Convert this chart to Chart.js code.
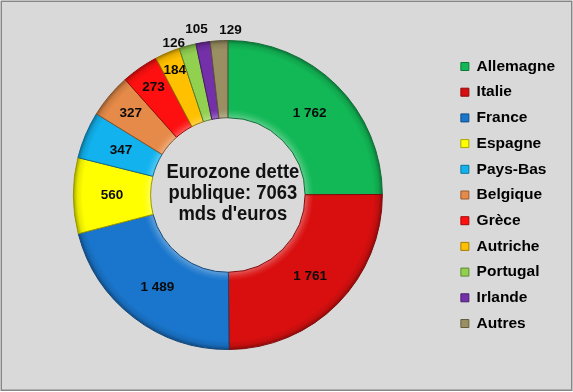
<!DOCTYPE html>
<html><head><meta charset="utf-8">
<script src="https://cdn.jsdelivr.net/npm/chart.js@4.4.1/dist/chart.umd.min.js"></script>
<style>html,body{margin:0;padding:0;background:#fff;overflow:hidden}canvas{display:block}</style>
</head><body>
<canvas id="c" width="573" height="392"></canvas>
<script>
const categories = ['Allemagne','Italie','France','Espagne','Pays-Bas','Belgique','Grèce','Autriche','Portugal','Irlande','Autres'];
const debtValues = [1762, 1761, 1489, 560, 347, 327, 273, 184, 126, 105, 129];
const centerTitle = ['Eurozone dette', 'publique: 7063', "mds d'euros"];

// styling
const sliceColors = ['#12b856','#d90f0f','#1a76cc','#ffff00','#12b2ee','#e58a48','#ff1010','#ffc000','#92d050','#7430a8','#9a8f62'];
const labelRadius = [0.75,0.75,0.75,0.75,0.75,0.82,0.845,0.876,1.04,1.094,1.065];
const labelAngleShift = [0,0,0,0,0,0,0,0,-4.5,-1.4,4.2];
const FONT = "'Liberation Sans', Arial, sans-serif";

function shade(hex, f) {
  const n = parseInt(hex.slice(1), 16);
  let r = n >> 16, g = (n >> 8) & 255, b = n & 255;
  if (f >= 0) { r += (255 - r) * f; g += (255 - g) * f; b += (255 - b) * f; }
  else { r *= 1 + f; g *= 1 + f; b *= 1 + f; }
  return 'rgb(' + Math.round(r) + ',' + Math.round(g) + ',' + Math.round(b) + ')';
}
function fmt(v) { return String(v).replace(/\B(?=(\d{3})+(?!\d))/g, ' '); }

const bgPlugin = {
  id: 'bg',
  beforeDraw(chart) {
    const c = chart.ctx;
    c.save();
    c.fillStyle = '#ffffff';
    c.fillRect(0, 0, chart.width, chart.height);
    c.fillStyle = '#d9d9d9';
    c.fillRect(1, 1, chart.width - 2, chart.height - 2);
    c.strokeStyle = '#868686';
    c.lineWidth = 1.5;
    c.strokeRect(1.25, 1.25, chart.width - 2.5, chart.height - 3);
    c.restore();
  }
};

const labelPlugin = {
  id: 'labels',
  afterDatasetsDraw(chart) {
    const c = chart.ctx;
    const meta = chart.getDatasetMeta(0);
    c.save();
    c.font = 'bold 13.5px ' + FONT;
    c.fillStyle = '#0a0a0a';
    c.textAlign = 'center';
    c.textBaseline = 'middle';
    meta.data.forEach((arc, i) => {
      const p = arc.getProps(['x','y','startAngle','endAngle','outerRadius'], true);
      const mid = (p.startAngle + p.endAngle) / 2 + labelAngleShift[i] * Math.PI / 180;
      const r = p.outerRadius * labelRadius[i];
      c.fillText(fmt(debtValues[i]), p.x + Math.cos(mid) * r, p.y + Math.sin(mid) * r);
    });
    const a0 = meta.data[0];
    if (a0) {
      c.font = 'bold 20px ' + FONT;
      c.textBaseline = 'alphabetic';
      c.fillStyle = '#111';
      const offs = [-17, 4, 25];
      centerTitle.forEach((t, k) => {
        c.save();
        c.translate(a0.x + 5, a0.y + offs[k]);
        c.scale(0.92, 1);
        c.fillText(t, 0, 0);
        c.restore();
      });
    }
    c.restore();
  }
};

function sliceFill(ctx) {
  const i = ctx.dataIndex;
  const base = sliceColors[i];
  const meta = ctx.chart.getDatasetMeta(0);
  const arc = meta.data[i];
  if (!arc || !arc.outerRadius) return base;
  const x = arc.x, y = arc.y, ir = arc.innerRadius, or = arc.outerRadius;
  const g = ctx.chart.ctx.createRadialGradient(x, y, ir, x, y, or);
  g.addColorStop(0, shade(base, 0.3));
  g.addColorStop(0.06, shade(base, 0.1));
  g.addColorStop(0.11, base);
  g.addColorStop(0.88, base);
  g.addColorStop(0.95, shade(base, -0.1));
  g.addColorStop(1, shade(base, -0.35));
  return g;
}

const chart = new Chart(document.getElementById('c'), {
  type: 'doughnut',
  data: {
    labels: categories,
    datasets: [{
      data: debtValues,
      backgroundColor: sliceFill,
      borderColor: sliceColors.map(c => shade(c, -0.4)),
      borderWidth: 1
    }]
  },
  options: {
    responsive: false,
    devicePixelRatio: 1,
    animation: false,
    cutout: '50%',
    layout: { padding: { left: 5, right: 8, top: 40, bottom: 42 } },
    plugins: {
      tooltip: { enabled: false },
      legend: {
        position: 'right',
        align: 'center',
        labels: {
          boxWidth: 8,
          boxHeight: 8,
          padding: 10.2,
          color: '#000',
          font: { family: FONT, size: 15.5, weight: 'bold' },
          generateLabels: ch => ch.data.labels.map((t, i) => ({
            text: t, fillStyle: sliceColors[i], strokeStyle: shade(sliceColors[i], -0.35),
            lineWidth: 1, hidden: false, index: i, fontColor: '#000'
          }))
        }
      }
    }
  },
  plugins: [bgPlugin, labelPlugin]
});
chart.update('none');
</script>
</body></html>
